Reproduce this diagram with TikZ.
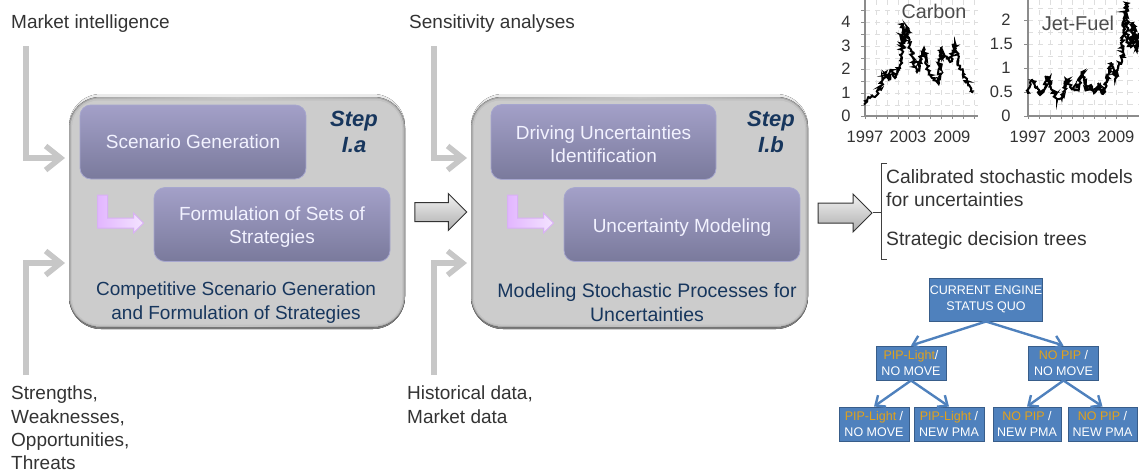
\documentclass[tikz,border=0pt]{standalone}
\usepackage{fontspec}
\setmainfont{Liberation Sans}
\usetikzlibrary{arrows.meta,shapes.arrows,decorations.pathmorphing,calc}
\definecolor{navy}{HTML}{17365D}
\definecolor{txt}{HTML}{333333}
\definecolor{blu}{HTML}{4F81BD}
\definecolor{bluedge}{HTML}{385D8A}
\definecolor{org}{HTML}{E3A21A}
\definecolor{purple1}{HTML}{A3A0C8}
\definecolor{purple2}{HTML}{7A7A9C}
\definecolor{purple3}{HTML}{A6A6CE}
\definecolor{lil1}{HTML}{E2B6FF}
\definecolor{lil2}{HTML}{F4E4FF}
\definecolor{lil3}{HTML}{D8B0F4}
\tikzset{
  lbl/.style={anchor=west,align=left,text=txt,font=\fontsize{19}{23.3}\selectfont,inner sep=0pt},
  inarrow/.style={draw=black!22,line width=5.5pt,-{Straight Barb[length=15pt,width=24pt]}},
  bluebox/.style={draw=bluedge,line width=1pt,fill=blu,text=white,align=center,inner sep=0pt,font=\fontsize{12.5}{16.5}\selectfont},
  treearrow/.style={draw=blu,line width=2.4pt,-{Straight Barb[length=8pt,width=14pt]}},
  innerbox/.style={rounded corners=11pt,top color=purple1,bottom color=purple2,draw=purple3,line width=.8pt,
     text=white!95!blue,align=center,inner sep=0pt,font=\fontsize{19}{23.5}\selectfont},
  blockarrow/.style={single arrow,draw=black!80,line width=1pt,top color=black!5,bottom color=black!32,
     single arrow head extend=9pt,single arrow tip angle=90,inner sep=0pt},
  axl/.style={text=txt,font=\fontsize{16.5}{18}\selectfont,inner sep=0pt},
  ax/.style={draw=black!45,line width=1.4pt},
  gridl/.style={draw=black!13,line width=1pt,dash pattern=on 5pt off 5pt},
  steplbl/.style={text=navy,align=center,inner sep=0pt,font=\fontsize{22}{26}\selectfont\bfseries\itshape},
  bigtxt/.style={text=navy,align=center,inner sep=0pt,font=\fontsize{19}{23.3}\selectfont},
  curve/.style={draw=black,line width=2pt,line join=miter,
     decorate,decoration={random steps,segment length=1.2pt,amplitude=1.9pt}},
  lshape/.style={draw=lil3,line width=1pt,left color=lil1,right color=lil2},
}
\newcommand{\bevelbox}[5]{% name,x1,y1,x2,y2
  \fill[rounded corners=32pt,top color=black!8,bottom color=black!52]
     (#2,#3) rectangle (#4,#5);
  \fill[rounded corners=31pt,left color=black!36,right color=black!36,middle color=black!22]
     ($(#2,#3)+(0,3)$) rectangle ($(#4,#5)+(0,-2)$);
  \fill[rounded corners=29pt,black!24] ($(#2,#3)+(1.5,4.5)$) rectangle ($(#4,#5)+(-1.5,-3)$);
  \node[fill=black!20,rounded corners=27pt,inner sep=0pt,minimum width=#4pt-#2pt-6pt,minimum height=#5pt-#3pt-11pt] (#1)
     at ($(#2,#3)!.5!(#4,#5)+(0,1)$) {};
}
\newcommand{\lshapearrow}[2]{% x,y of top-left
  \begin{scope}[shift={(#1,#2)}]
  \path[lshape] (0,0)--(10,0)--(10,23)--(36,23)--(36,18)--(46,28)--(36,38)--(36,33)--(0,33)--cycle;
  \end{scope}
}
\begin{document}
\begin{tikzpicture}[x=1pt,y=-1pt]
\useasboundingbox (0,0) rectangle (1139,472);
% ---- left labels
\node[lbl] (mi) at (11,23.5) {Market intelligence};
\node[lbl,anchor=north west] (sw) at (11,386) {Strengths,\\Weaknesses,\\Opportunities,\\Threats};
\node[lbl] (sa) at (409,23.5) {Sensitivity analyses};
\node[lbl,anchor=north west] (hd) at (407,386) {Historical data,\\Market data};
% ---- step boxes
\bevelbox{boxa}{69}{94}{405}{329}
\bevelbox{boxb}{471}{94}{808}{329}
% ---- grey arrows
\coordinate (mis) at (26,46);
\coordinate (sws) at (26,375);
\coordinate (sas) at (434,46);
\coordinate (hds) at (434,375);
\coordinate (aw1) at (65,158);
\coordinate (aw2) at (65,263);
\coordinate (bw1) at (467,158);
\coordinate (bw2) at (467,263);
\draw[inarrow] (mis) |- (aw1);
\draw[inarrow] (sws) |- (aw2);
\draw[inarrow] (sas) |- (bw1);
\draw[inarrow] (hds) |- (bw2);
% ---- inner boxes
\node[innerbox,minimum width=226pt,minimum height=74pt] (sg) at (193,142) {Scenario Generation};
\node[innerbox,minimum width=236pt,minimum height=74pt] (fs) at (272,224.5) {\rule{0pt}{19pt}Formulation of Sets of\\Strategies};
\node[innerbox,minimum width=225pt,minimum height=75pt] (du) at (603.5,142) {\rule{0pt}{18pt}Driving Uncertainties\\Identification};
\node[innerbox,minimum width=236pt,minimum height=74pt] (um) at (682,224.5) {\rule{0pt}{20pt}Uncertainty Modeling};
\lshapearrow{97.5}{195}
\lshapearrow{507.5}{195}
\node[steplbl] (sta) at (354,132) {Step\\I.a};
\node[steplbl] (stb) at (771,132) {Step\\I.b};
\node[bigtxt] (ca) at (236,302.5) {Competitive Scenario Generation\\and Formulation of Strategies};
\node[bigtxt,font=\fontsize{19.5}{23.3}\selectfont] (cb) at (647,302.5) {Modeling Stochastic Processes for\\Uncertainties};
% ---- block arrows
\node[blockarrow,minimum height=52pt,minimum width=37pt] (ar1) at (436,212) {\rule{0pt}{18pt}};
\node[blockarrow,minimum height=54pt,minimum width=38pt] (ar2) at (840,213) {\rule{0pt}{19pt}};
% ---- bracket & texts
\draw[black!75,line width=.8pt] (887,163) -- (881,163) -- (881,259) -- (887,259) (881,212) -- (873,212);
\node[lbl,anchor=north west,font=\fontsize{19.3}{23.5}\selectfont] (cal) at (886,169) {Calibrated stochastic models\\for uncertainties};
\node[lbl,font=\fontsize{19.3}{23.5}\selectfont] (sdt) at (886,241) {Strategic decision trees};
% ---- tree
\node[bluebox,minimum width=112pt,minimum height=43pt] (root) at (986,299.5) {CURRENT ENGINE\\STATUS QUO};
\node[bluebox,minimum width=70pt,minimum height=34pt] (ml) at (911,363) {\textcolor{org}{PIP-Light}/\\NO MOVE};
\node[bluebox,minimum width=70pt,minimum height=34pt] (mr) at (1063.5,363) {\textcolor{org}{NO PIP} /\\NO MOVE};
\node[bluebox,minimum width=70pt,minimum height=34pt] (l1) at (874,424) {\textcolor{org}{PIP-Light} /\\NO MOVE};
\node[bluebox,minimum width=70pt,minimum height=34pt] (l2) at (949,424) {\textcolor{org}{PIP-Light} /\\NEW PMA};
\node[bluebox,minimum width=68pt,minimum height=34pt] (l3) at (1027,424) {\textcolor{org}{NO PIP} /\\NEW PMA};
\node[bluebox,minimum width=69pt,minimum height=34pt] (l4) at (1102.5,424) {\textcolor{org}{NO PIP} /\\NEW PMA};
\draw[treearrow] (root.south) -- (ml.north);
\draw[treearrow] (root.south) -- (mr.north);
\draw[treearrow] (ml.south) -- (l1.north);
\draw[treearrow] (ml.south) -- (l2.north);
\draw[treearrow] (mr.south) -- (l3.north);
\draw[treearrow] (mr.south) -- (l4.north);
% ---- Carbon chart
\begin{scope}
\clip (840,0) rectangle (1139,150);
\foreach \x in {876,887,898,908,919,930,941,952,963,974} \draw[gridl] (\x,0) -- (\x,116);
\foreach \y in {10,22,34,46,58,69,81,93,105} \draw[gridl] (865,\y) -- (978,\y);
\draw[ax] (865,0) -- (865,116) -- (978,116);
\foreach \y in {10,22,34,46,58,69,81,93,105,116} \draw[ax,line width=1pt] (861,\y) -- (865,\y);
\foreach \x in {865,876,887,898,908,919,930,941,952,963,974} \draw[ax,line width=1pt] (\x,116) -- (\x,119);
\draw[curve] (864,104) -- (870,98) -- (877,95) -- (882,83) -- (886,72) -- (888,80) -- (892,70) -- (895,78) -- (900,65) -- (902,47) -- (902.5,24) -- (904,43) -- (907,27) -- (909,42) -- (913,58) -- (917,72) -- (922,53) -- (924,48) -- (927,67) -- (932,78) -- (937,82) -- (939,83) -- (941,48) -- (943,58) -- (947,57) -- (950,62) -- (955,43) -- (958,63) -- (963,73) -- (972,93);
\end{scope}
\node[axl] (c4) at (846,22) {4};
\node[axl] (c3) at (846,46) {3};
\node[axl] (c2) at (846,69) {2};
\node[axl] (c1) at (846,93) {1};
\node[axl] (c0) at (846,116) {0};
\node[axl] (cy1) at (865,137) {1997};
\node[axl] (cy2) at (908,137) {2003};
\node[axl] (cy3) at (952,137) {2009};
\node[text=black!70,inner sep=0pt,font=\fontsize{19.8}{20}\selectfont] (carb) at (934,11) {Carbon};
% ---- Jet chart
\begin{scope}
\clip (1020,0) rectangle (1139,150);
\foreach \x in {1039,1050,1061,1072,1083,1094,1105,1116,1127} \draw[gridl] (\x,0) -- (\x,116);
\foreach \y in {8,20,32,44,56,68,80,92,104} \draw[gridl] (1028,\y) -- (1139,\y);
\draw[ax] (1028,0) -- (1028,116) -- (1139,116);
\foreach \y in {20,44,68,92,116} \draw[ax,line width=1pt] (1024,\y) -- (1028,\y);
\foreach \x in {1028,1039,1050,1061,1072,1083,1094,1105,1116,1127} \draw[ax,line width=1pt] (\x,116) -- (\x,119);
\draw[curve] (1027,93) -- (1032,79) -- (1037,87) -- (1040,95) -- (1045,88) -- (1048,77) -- (1052,90) -- (1057,100) -- (1062,97) -- (1067,80) -- (1070,87) -- (1077,90) -- (1082,72) -- (1087,90) -- (1091,85) -- (1094,93) -- (1098,83) -- (1103,94) -- (1107,80) -- (1112,63) -- (1115,80) -- (1118,67) -- (1122,60) -- (1124,20) -- (1126,3) -- (1128,43) -- (1131,47) -- (1133,23) -- (1137,50) -- (1139,33);
\end{scope}
\node[axl] (j2) at (1006,20) {2};
\node[axl,anchor=east] (j15) at (1013,44) {1.5};
\node[axl] (j1) at (1006,68) {1};
\node[axl,anchor=east] (j05) at (1013,92) {0.5};
\node[axl] (j0) at (1006,116) {0};
\node[axl] (jy1) at (1028,137) {1997};
\node[axl] (jy2) at (1072,137) {2003};
\node[axl] (jy3) at (1116,137) {2009};
\node[text=black!70,inner sep=0pt,font=\fontsize{20}{20}\selectfont] (jet) at (1078,23) {Jet-Fuel};
\end{tikzpicture}
\end{document}
